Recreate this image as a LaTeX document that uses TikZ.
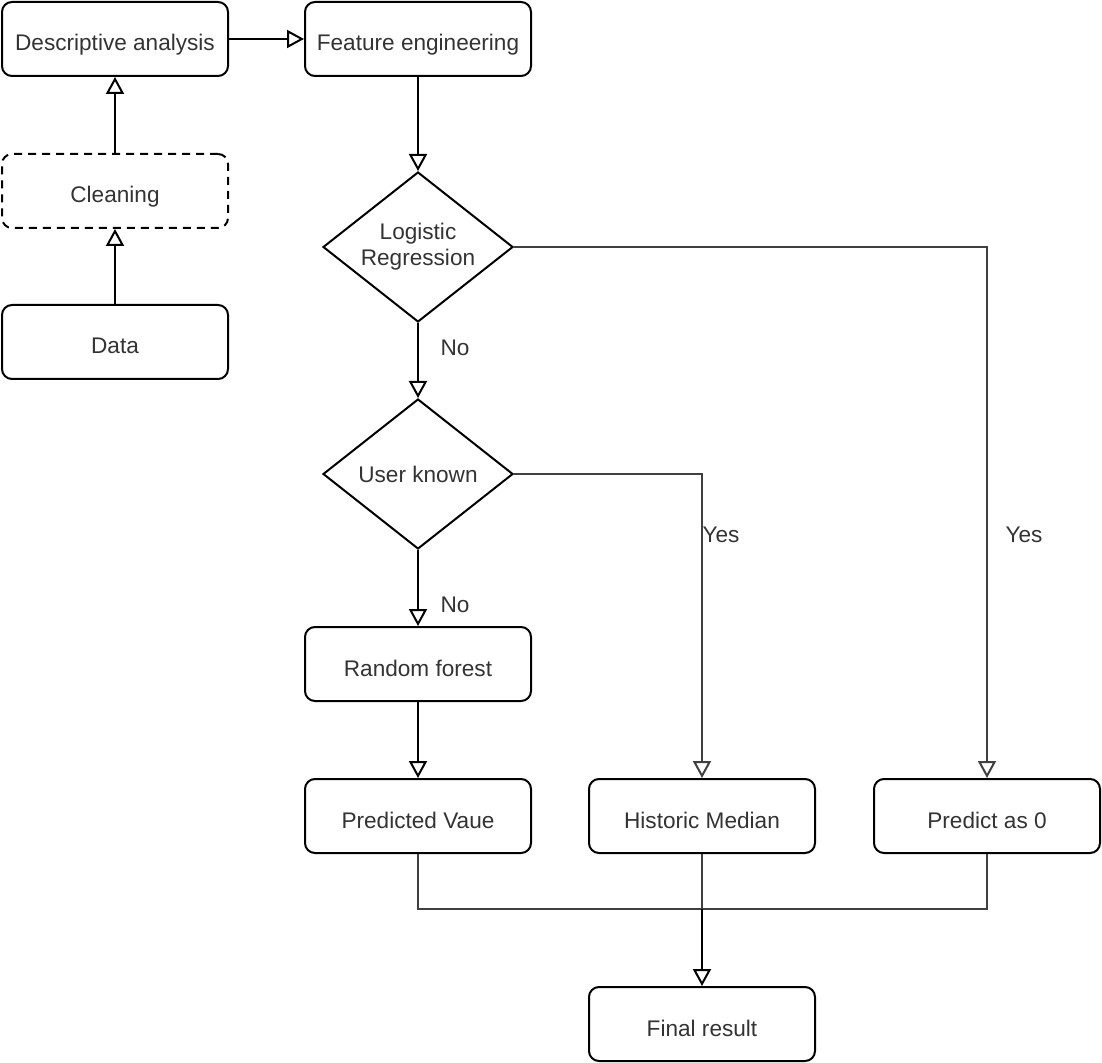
\documentclass[tikz,border=0pt]{standalone}
\usepackage{fontspec}
\setmainfont{Liberation Sans}
\usetikzlibrary{shapes.geometric,arrows.meta}
\definecolor{txt}{HTML}{333333}
\begin{document}
\begin{tikzpicture}[x=0.5pt,y=-0.5pt,
  box/.style={draw=black,line width=1pt,rounded corners=5pt,minimum width=113pt,minimum height=37pt,inner sep=0pt,text height=12pt,text depth=0pt,text=txt,font=\fontsize{11.3pt}{13pt}\selectfont},
  dbox/.style={box,dashed,dash pattern=on 4pt off 3pt},
  dec/.style={draw=black,line width=1pt,diamond,shape aspect=1.27,minimum width=95pt,minimum height=75pt,inner sep=0pt,align=center,text=txt,font=\fontsize{11.3pt}{13pt}\selectfont},
  conn/.style={draw=black,line width=1pt,-{Triangle[open,length=8.5pt,width=9pt,fill=white]}},
  gconn/.style={conn,draw=black!75},
  plain/.style={draw=black!75,line width=1pt},
  lbl/.style={text=txt,font=\fontsize{11.3pt}{13pt}\selectfont,inner sep=0pt}]
\useasboundingbox (0,0) rectangle (1102,1063);
\node[box] (desc) at (115,39) {Descriptive analysis};
\node[box] (feat) at (418,39) {Feature engineering};
\node[dbox] (clean) at (115,191) {Cleaning};
\node[box] (data) at (115,342) {Data};
\node[dec] (lr) at (418,247) {Logistic\\Regression};
\node[dec] (uk) at (418,474) {User known};
\node[box] (rf) at (418,664) {Random forest};
\node[box] (pv) at (418,816) {Predicted Vaue};
\node[box] (hm) at (702,816) {Historic Median};
\node[box] (p0) at (987,816) {Predict as 0};
\node[box] (fr) at (702,1024) {Final result};
\coordinate (m) at (702,909);
\node[lbl] (no1) at (455,348) {No};
\node[lbl] (no2) at (455,605) {No};
\node[lbl] (yes1) at (721,535) {Yes};
\node[lbl] (yes2) at (1024,535) {Yes};
\draw[conn] (desc.east) -- (feat.west);
\draw[conn] (clean.north) -- (desc.south);
\draw[conn] (data.north) -- (clean.south);
\draw[conn] (feat.south) -- (lr.north);
\draw[conn] (lr.south) -- (uk.north);
\draw[gconn] (lr.east) -| (p0.north);
\draw[gconn] (uk.east) -| (hm.north);
\draw[conn] (uk.south) -- (rf.north);
\draw[conn] (rf.south) -- (pv.north);
\draw[plain] (pv.south) |- (m);
\draw[plain] (p0.south) |- (m);
\draw[plain] (hm.south) -- (m);
\draw[conn] (m) -- (fr.north);
\end{tikzpicture}
\end{document}
